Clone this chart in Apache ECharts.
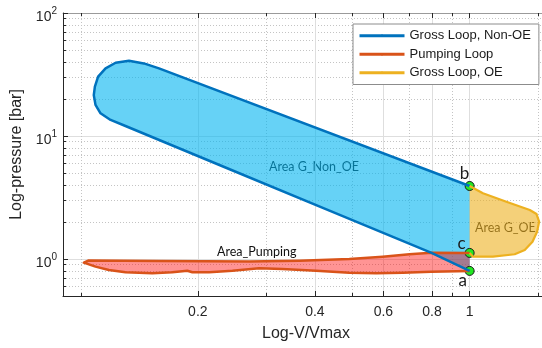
<!DOCTYPE html>
<html><head><meta charset="utf-8">
<script src="https://cdn.jsdelivr.net/npm/echarts@6/dist/echarts.min.js"></script>
<style>html,body{margin:0;padding:0;background:#fff}#c{width:542px;height:348px}</style>
</head><body><div id="c"></div>
<script>
// ---------- data (raw values) ----------
const xLimits = [0.09, 1.6];
const yLimits = [0.5, 100];
const xMajorTicks = [0.2, 0.4, 0.6, 0.8, 1];
const xMinorTicks = [0.09, 0.1, 0.3, 0.5, 0.7, 0.9, 1.5, 1.6];
const yMajorTicks = [1, 10, 100];
const yMinorTicks = [0.5, 0.6, 0.7, 0.8, 0.9, 2, 3, 4, 5, 6, 7, 8, 9, 20, 30, 40, 50, 60, 70, 80, 90];

const seriesNames = ['Gross Loop, Non-OE', 'Pumping Loop', 'Gross Loop, OE'];

// Gross loop, non-OE: from a (BDC) along compression, round the top, expansion to b
const grossNonOE_V = [1.0, 0.798, 0.436, 0.2406, 0.1303, 0.1193, 0.1124, 0.1091, 0.108, 0.1087, 0.1108, 0.1158, 0.1229, 0.133, 0.1453, 0.1589, 1.0];
const grossNonOE_P = [0.80, 1.12, 2.475, 5.39, 12.06, 13.5, 15.3, 17.9, 21.5, 25.2, 30.35, 35.5, 39.4, 40.95, 38.9, 35.5, 3.92];

// Gross loop, OE: from b to c
const grossOE_V = [1.0, 1.082, 1.243, 1.428, 1.486, 1.509, 1.491, 1.451, 1.386, 1.306, 1.148, 1.02, 1.0];
const grossOE_P = [3.92, 3.42, 2.92, 2.50, 2.32, 2.01, 1.667, 1.38, 1.184, 1.092, 1.044, 1.044, 1.12];

// Pumping loop: from c along exhaust (top) to the tip, then intake (bottom) to a
const pumping_V = [1.0, 0.798, 0.700, 0.5977, 0.4906, 0.3646, 0.271, 0.1589, 0.1048, 0.1018, 0.1091, 0.1181, 0.1303, 0.1527, 0.1719, 0.1879, 0.1936, 0.2138, 0.2455, 0.2875, 0.3296, 0.4026, 0.4906, 0.5747, 0.673, 0.7965, 1.0];
const pumping_P = [1.12, 1.125, 1.092, 1.044, 1.0, 0.969, 0.954, 0.963, 0.972, 0.933, 0.866, 0.814, 0.780, 0.765, 0.780, 0.803, 0.780, 0.780, 0.803, 0.840, 0.829, 0.803, 0.774, 0.765, 0.774, 0.788, 0.80];

const pointNames = ['a', 'b', 'c'];
const point_V = [1.0, 1.0, 1.0];
const point_P = [0.80, 3.92, 1.12];

// ---------- styling / building ----------
const L = Math.log10;
const C_BLUE = '#0072BD', C_RED = '#D95319', C_GOLD = '#EDB120';
const AX = '#262626';
const labelOffsets = { a: [-7, 10], b: [-5, -12], c: [-8, -9] };

function pts(V, P) { return V.map((v, i) => [L(v), L(P[i])]); }

function fillSeries(V, P, color) {
  return {
    type: 'custom', coordinateSystem: 'cartesian2d', silent: true,
    data: pts(V, P),
    renderItem: function (params, api) {
      if (params.dataIndex !== 0) return null;
      const poly = V.map((v, i) => api.coord([L(v), L(P[i])]));
      return { type: 'polygon', shape: { points: poly }, style: { fill: color, stroke: null } };
    }
  };
}
function lineSeries(name, V, P, color, w) {
  return {
    name: name, type: 'line', data: pts(V, P), symbol: 'none', showSymbol: false,
    color: color, lineStyle: { color: color, width: w, join: 'round' }, silent: true, animation: false
  };
}

const xMin = L(xLimits[0]), xMax = L(xLimits[1]);
const yMin = L(yLimits[0]), yMax = L(yLimits[1]);
const tickFont = { fontFamily: 'Liberation Sans', color: AX };

function xAx(pos, major, opts) {
  return Object.assign({
    type: 'value', position: pos, min: xMin, max: xMax,
    axisLine: { show: false, onZero: false },
    axisTick: { show: true, inside: true, length: major ? 5 : 3, customValues: (major ? xMajorTicks : xMinorTicks).map(L), lineStyle: { color: AX } },
    axisLabel: { show: false },
    splitLine: { show: false }
  }, opts || {});
}
function yAx(pos, major, opts) {
  return Object.assign({
    type: 'value', position: pos, min: yMin, max: yMax,
    axisLine: { show: false, onZero: false },
    axisTick: { show: true, inside: true, length: major ? 5 : 3, customValues: (major ? yMajorTicks : yMinorTicks).map(L), lineStyle: { color: AX } },
    axisLabel: { show: false },
    splitLine: { show: false }
  }, opts || {});
}

const option = {
  animation: false,
  backgroundColor: '#fff',
  grid: { left: 63, top: 13, width: 486, height: 283, containLabel: false, outerBoundsMode: 'none' },
  xAxis: [
    xAx('bottom', true, {
      axisLine: { show: true, onZero: false, lineStyle: { color: AX, width: 1 } },
      axisLabel: { show: true, customValues: xMajorTicks.map(L), margin: 9, fontSize: 14, ...tickFont,
        formatter: v => String(Math.round(Math.pow(10, v) * 10) / 10) },
      splitLine: { show: true, lineStyle: { color: '#dedede', width: 1, type: 'solid' } },
      name: 'Log-V/Vmax', nameLocation: 'middle', nameGap: 30,
      nameTextStyle: { fontFamily: 'Liberation Sans', fontSize: 16, color: AX }
    }),
    xAx('top', true, { axisLine: { show: true, onZero: false, lineStyle: { color: '#9a9a9a', width: 1 } } }),
    xAx('bottom', false, { splitLine: { show: true, lineStyle: { color: '#c4c4c4', width: 1, type: [1, 2] } } }),
    xAx('top', false)
  ],
  yAxis: [
    yAx('left', true, {
      axisLine: { show: true, onZero: false, lineStyle: { color: AX, width: 1 } },
      axisLabel: { show: true, customValues: yMajorTicks.map(L), margin: 6, ...tickFont,
        formatter: v => '{b|10}{s|' + Math.round(v) + '}',
        rich: {
          b: { fontFamily: 'Liberation Sans', fontSize: 14, color: AX, padding: [8, 0, 0, 0] },
          s: { fontFamily: 'Liberation Sans', fontSize: 10, color: AX, padding: [0, 0, 4, 0] }
        } },
      splitLine: { show: true, lineStyle: { color: '#dedede', width: 1, type: 'solid' } },
      name: 'Log-pressure [bar]', nameLocation: 'middle', nameGap: 36,
      nameTextStyle: { fontFamily: 'Liberation Sans', fontSize: 16, color: AX }
    }),
    yAx('left', false, { splitLine: { show: true, lineStyle: { color: '#c4c4c4', width: 1, type: [1, 2] } } })
  ],
  legend: {
    orient: 'vertical', left: 353, top: 24, padding: [3, 8, 3, 5],
    itemWidth: 45, itemHeight: 3, itemGap: 1, selectedMode: false,
    backgroundColor: '#fff', borderColor: '#8c8c8c', borderWidth: 1, borderRadius: 0,
    lineStyle: { width: 3 },
    textStyle: { fontFamily: 'Liberation Sans', fontSize: 13, color: '#1a1a1a', lineHeight: 17.5 },
    data: seriesNames.map(n => ({ name: n }))
  },
  series: [
    lineSeries(seriesNames[1], pumping_V, pumping_P, C_RED, 2.5),
    fillSeries(grossNonOE_V, grossNonOE_P, 'rgba(0,180,240,0.6)'),
    lineSeries(seriesNames[0], grossNonOE_V, grossNonOE_P, C_BLUE, 2.5),
    fillSeries(grossOE_V, grossOE_P, 'rgba(237,177,32,0.6)'),
    lineSeries(seriesNames[2], grossOE_V, grossOE_P, C_GOLD, 2.2),
    fillSeries(pumping_V, pumping_P, 'rgba(255,0,0,0.42)'),
    {
      type: 'scatter', silent: true, symbolSize: 9,
      itemStyle: { color: '#22e822', borderColor: '#1a1a1a', borderWidth: 1, opacity: 1 },
      data: point_V.map((v, i) => ({
        value: [L(v), L(point_P[i])],
        label: { show: true, position: 'inside', offset: labelOffsets[pointNames[i]],
          formatter: () => pointNames[i], fontFamily: 'Lato', fontSize: 17, color: '#1a1a1a' }
      }))
    }
  ],
  graphic: [
    { type: 'text', x: 269, y: 167, silent: true, style: { text: 'Area G_Non_OE', fontFamily: 'Lato', fontSize: 12.5, fill: '#111', verticalAlign: 'middle' } },
    { type: 'text', x: 217, y: 252, silent: true, style: { text: 'Area_Pumping', fontFamily: 'Lato', fontSize: 12.5, fill: '#111', verticalAlign: 'middle' } },
    { type: 'text', x: 475, y: 228, silent: true, style: { text: 'Area G_OE', fontFamily: 'Lato', fontSize: 12.5, fill: '#111', verticalAlign: 'middle' } }
  ]
};
echarts.init(document.getElementById('c'), null, { renderer: 'canvas' }).setOption(option);
</script>
</body></html>
